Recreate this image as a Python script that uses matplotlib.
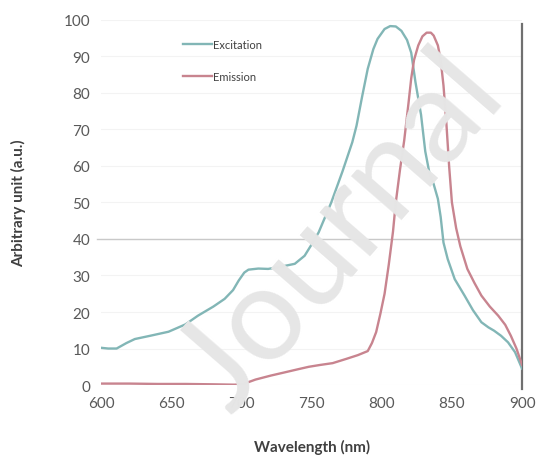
import matplotlib
matplotlib.use("Agg")
import matplotlib.pyplot as plt

# excitation / emission spectra
exc_nm = [600, 605, 611, 618, 624, 635, 648, 660, 669, 680, 688, 694, 698, 702, 705,
          712, 719, 728, 738, 745, 750, 755, 764, 772, 779, 782, 786, 790, 794, 797,
          802, 806, 810, 814, 818, 821, 824, 828, 831, 834, 837, 840, 842, 844, 847,
          852, 859, 865, 871, 876, 880, 885, 890, 895, 898, 900]
exc_val = [10.2, 10.0, 10.0, 11.5, 12.6, 13.5, 14.6, 16.6, 19.0, 21.5, 23.6, 26.0, 28.6, 30.8, 31.6,
           31.9, 31.8, 32.4, 33.2, 35.4, 38.5, 41.8, 50.0, 58.5, 66.5, 71.0, 79.0, 86.6, 92.0, 94.8,
           97.5, 98.3, 98.2, 97.0, 94.5, 91.0, 83.0, 74.0, 64.0, 58.0, 55.0, 51.0, 46.0, 39.0, 34.5,
           29.0, 24.5, 20.5, 17.2, 15.8, 14.9, 13.5, 11.7, 9.0, 6.3, 4.5]

em_nm = [600, 620, 640, 660, 680, 695, 701, 705, 710, 715, 721, 730, 740, 748, 756,
         765, 775, 783, 790, 793, 796, 799, 802, 805, 808, 810, 813, 816, 819, 821,
         823, 826, 829, 832, 835, 837, 840, 842, 844, 846, 848, 850, 853, 856, 861,
         866, 871, 877, 883, 888, 892, 896, 900]
em_val = [0.4, 0.4, 0.3, 0.3, 0.2, 0.1, 0.2, 0.8, 1.5, 2.0, 2.6, 3.4, 4.3, 5.0, 5.5,
          6.0, 7.2, 8.2, 9.3, 11.5, 14.5, 19.5, 25.0, 33.0, 42.0, 50.0, 59.0, 67.0, 77.0, 84.0,
          89.0, 93.0, 95.5, 96.5, 96.5, 95.7, 93.0, 89.0, 82.0, 72.0, 60.0, 50.0, 43.0, 38.0, 31.8,
          28.0, 24.5, 21.5, 19.0, 16.5, 13.5, 10.0, 5.5]

x_ticks = [600, 650, 700, 750, 800, 850, 900]
y_ticks = [0, 10, 20, 30, 40, 50, 60, 70, 80, 90, 100]

plt.rcParams['font.family'] = ['Lato', 'DejaVu Sans']

fig = plt.figure(figsize=(5.41, 4.64), dpi=100)
ax = fig.add_axes([0.187, 0.168, 0.778, 0.787])

# faint grid, a more visible line at 40, dark line at 900
for v in y_ticks:
    ax.axhline(v, color='#f3f3f3', lw=0.8, zorder=0)
ax.axhline(40, color='#c9c9c9', lw=1.0, zorder=1, xmin=-0.01, clip_on=False)
ax.axvline(900, ymin=-0.01, ymax=0.99, color='#707070', lw=1.6, zorder=3, clip_on=False)

ax.plot(exc_nm, exc_val, color='#82b6b6', lw=1.7, label='Excitation', zorder=4)
ax.plot(em_nm, em_val, color='#c8848f', lw=1.7, label='Emission', zorder=4)

ax.set_xlim(600, 900)
ax.set_ylim(0, 100)
ax.set_xticks(x_ticks)
ax.set_yticks(y_ticks)
ax.tick_params(length=0, labelsize=11, labelcolor='#595959', pad=8)
for s in ax.spines.values():
    s.set_visible(False)

ax.set_xlabel('Wavelength (nm)', fontsize=11, fontweight='bold', color='#404040', labelpad=21)
ax.set_ylabel('Arbitrary unit (a.u.)', fontsize=11, fontweight='bold', color='#404040', labelpad=27)

leg = ax.legend(loc='upper left', bbox_to_anchor=(0.17, 0.975), frameon=False,
                fontsize=8, handlelength=2.6, handletextpad=0.1, labelspacing=1.9)
for t in leg.get_texts():
    t.set_color('#404040')

# "Journal Pre-proof" style watermark
fig.text(0.63, 0.5, 'Journal', fontsize=95, color='#e6e6e6', rotation=49,
         ha='center', va='center', zorder=10)

fig.savefig('out.png', dpi=100)
